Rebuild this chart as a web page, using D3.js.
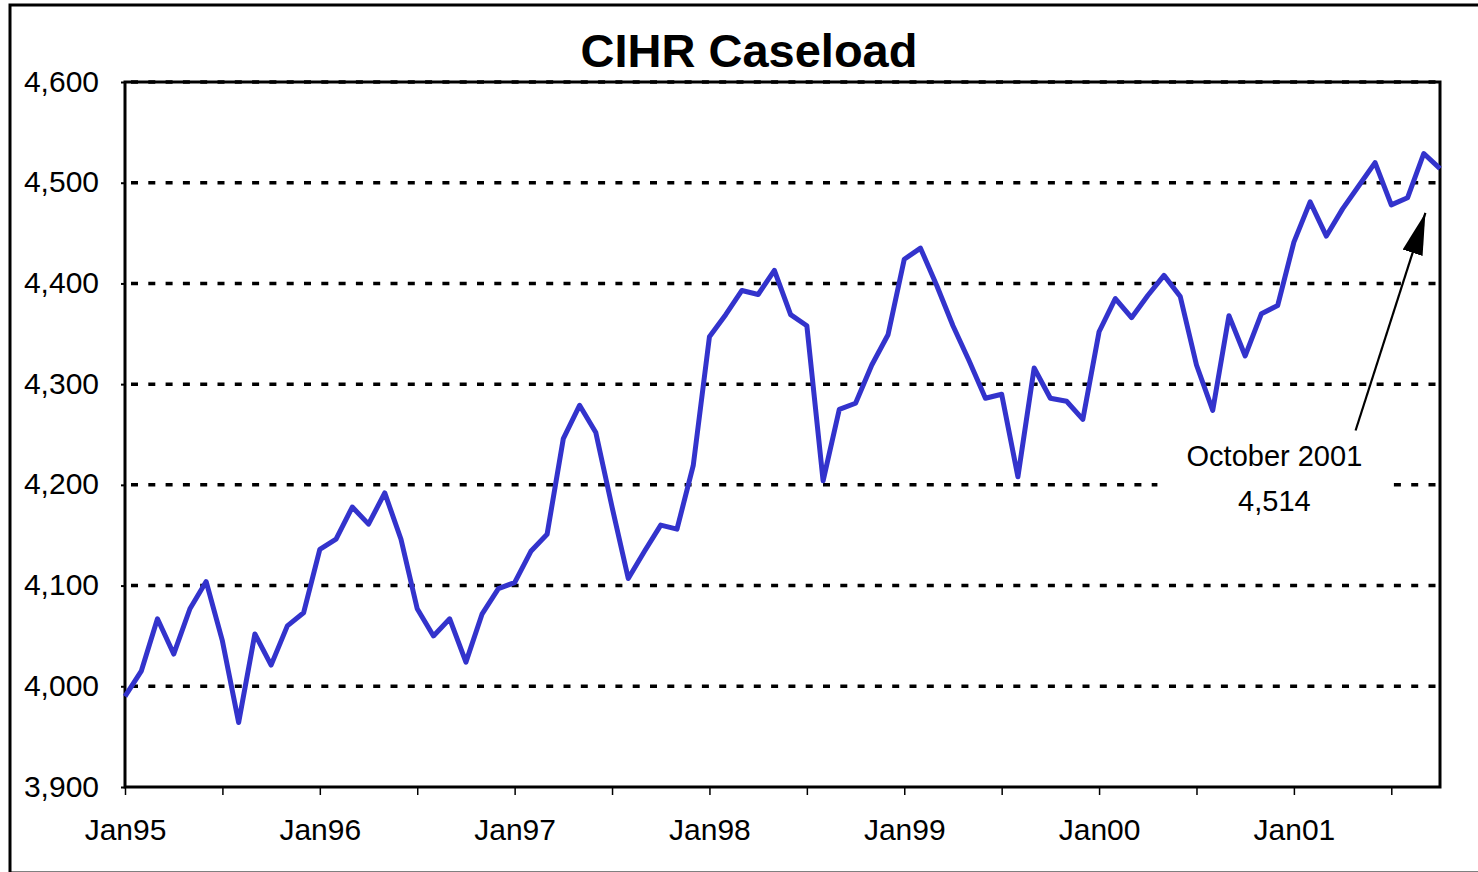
<!DOCTYPE html>
<html>
<head>
<meta charset="utf-8">
<script src="https://cdn.jsdelivr.net/npm/d3@7"></script>
<style>
    body { margin: 0; background: #fff; }
    svg { display: block; font-family: "Liberation Sans", Arial, sans-serif; }
</style>
</head>
<body>
<div id="chart"></div>
<script>
// monthly caseload, Jan 1995 .. Oct 2001
const caseload = [
    3990, 4015, 4067, 4032, 4077, 4104, 4045, 3964, 4052, 4021, 4060, 4073,
    4136, 4146, 4178, 4161, 4192, 4146, 4077, 4050, 4067, 4024, 4072, 4097,
    4103, 4134, 4151, 4246, 4279, 4252, 4178, 4107, 4134, 4160, 4156, 4219,
    4347, 4369, 4393, 4389, 4413, 4369, 4358, 4204, 4275, 4281, 4319, 4349,
    4424, 4435, 4398, 4358, 4323, 4286, 4290, 4208, 4316, 4286, 4283, 4265,
    4352, 4385, 4366, 4388, 4408, 4387, 4319, 4274, 4368, 4328, 4370, 4378,
    4441, 4481, 4447, 4474, 4497, 4520, 4478, 4485, 4529, 4514
];
const yTicks = [3900, 4000, 4100, 4200, 4300, 4400, 4500, 4600];
const xLabels = ["Jan95", "Jan96", "Jan97", "Jan98", "Jan99", "Jan00", "Jan01"];
const noteLines = ["October 2001", "4,514"];
// arrow tail / tip as [month index, caseload]
const arrowFrom = [75.8, 4254];
const arrowTo = [80.1, 4470];

const W = 1478, H = 872;
const margin = {top: 82, right: 38, bottom: 85, left: 125};

const svg = d3.select("#chart").append("svg")
    .attr("width", W)
    .attr("height", H);

// outer frame (runs off the right edge like the original)
svg.append("rect")
    .attr("x", 10).attr("y", 5)
    .attr("width", W + 10).attr("height", H - 4)
    .attr("fill", "none")
    .attr("stroke", "#000")
    .attr("stroke-width", 3);

const x = d3.scaleLinear()
    .domain([0, caseload.length - 1])
    .range([margin.left, W - margin.right]);

const y = d3.scaleLinear()
    .domain([3900, 4600])
    .range([H - margin.bottom, margin.top]);

// title
svg.append("text")
    .attr("x", 749).attr("y", 67)
    .attr("text-anchor", "middle")
    .style("font-size", "47px")
    .style("font-weight", "bold")
    .text("CIHR Caseload");

// dotted gridlines
svg.append("g")
    .selectAll("line")
    .data(yTicks.filter(t => t > 3900))
    .enter().append("line")
    .attr("x1", x(0) + 6)
    .attr("x2", x(caseload.length - 1) - 4)
    .attr("y1", d => y(d))
    .attr("y2", d => y(d))
    .attr("stroke", "#000")
    .attr("stroke-width", 3.5)
    .attr("stroke-dasharray", "7,10.3");

// y axis
const yAxis = svg.append("g")
    .attr("transform", `translate(${margin.left},0)`)
    .call(d3.axisLeft(y).tickValues(yTicks).tickSize(4).tickPadding(22)
        .tickFormat(d3.format(",")));
yAxis.select(".domain").remove();
yAxis.selectAll("line").attr("stroke-width", 2);
yAxis.selectAll("text")
    .style("font-size", "30px")
    .attr("fill", "#000")
    .attr("dy", "0.3em");

// x axis: ticks every 6 months, labels on January
const xAxis = svg.append("g")
    .attr("transform", `translate(0,${y(3900)})`)
    .call(d3.axisBottom(x)
        .tickValues(d3.range(0, caseload.length, 6))
        .tickSize(8).tickPadding(24)
        .tickFormat(d => d % 12 === 0 ? xLabels[d / 12] : ""));
xAxis.select(".domain").remove();
xAxis.selectAll("line").attr("stroke-width", 1.5);
xAxis.selectAll("text")
    .style("font-size", "30px")
    .attr("fill", "#000");

// plot border
svg.append("rect")
    .attr("x", x(0)).attr("y", y(4600))
    .attr("width", x(caseload.length - 1) - x(0))
    .attr("height", y(3900) - y(4600))
    .attr("fill", "none")
    .attr("stroke", "#000")
    .attr("stroke-width", 3);

// annotation label, with a white patch over the gridline
const noteX = x(70.8), noteY = y(4229);
svg.append("rect")
    .attr("x", noteX - 117).attr("y", noteY - 26)
    .attr("width", 234).attr("height", 90)
    .attr("fill", "#fff");
svg.append("g").selectAll("text")
    .data(noteLines)
    .enter().append("text")
    .attr("x", noteX)
    .attr("y", (d, i) => noteY + i * 45)
    .attr("dy", "0.35em")
    .attr("text-anchor", "middle")
    .style("font-size", "29px")
    .text(d => d);

// the caseload line
const line = d3.line()
    .x((d, i) => x(i))
    .y(d => y(d));

svg.append("path")
    .datum(caseload)
    .attr("d", line)
    .attr("fill", "none")
    .attr("stroke", "#3333CC")
    .attr("stroke-width", 5)
    .attr("stroke-linejoin", "round");

// arrow pointing at the last value
svg.append("defs").append("marker")
    .attr("id", "head")
    .attr("viewBox", "0 0 20 10")
    .attr("refX", 20).attr("refY", 5)
    .attr("markerWidth", 19).attr("markerHeight", 9.5)
    .attr("markerUnits", "strokeWidth")
    .attr("orient", "auto")
    .append("path")
    .attr("d", "M0,0 L20,5 L0,10 Z")
    .attr("fill", "#000");

svg.append("line")
    .attr("x1", x(arrowFrom[0])).attr("y1", y(arrowFrom[1]))
    .attr("x2", x(arrowTo[0])).attr("y2", y(arrowTo[1]))
    .attr("stroke", "#000")
    .attr("stroke-width", 2.2)
    .attr("marker-end", "url(#head)");
</script>
</body>
</html>
